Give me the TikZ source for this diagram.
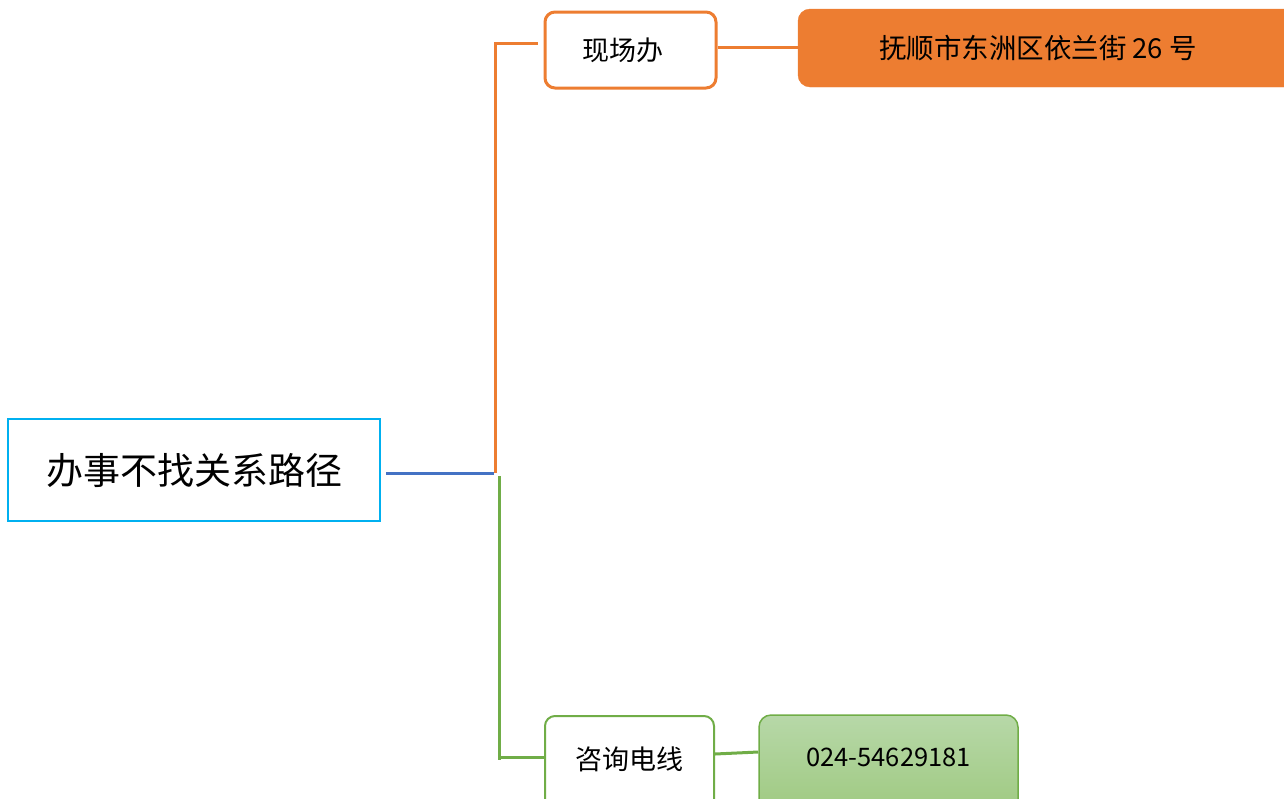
\documentclass[tikz,border=0pt]{standalone}
\usepackage{fontspec}
\newfontfamily\cjk{Noto Sans CJK SC}
\definecolor{rootc}{RGB}{0,176,240}
\definecolor{bluel}{RGB}{68,114,196}
\definecolor{orangel}{RGB}{237,125,49}
\definecolor{greenl}{RGB}{112,173,71}
\definecolor{gtop}{RGB}{183,216,168}
\definecolor{gbot}{RGB}{158,201,128}
\tikzset{
  rootbox/.style={draw=rootc,line width=2.5pt,fill=white,minimum width=372pt,minimum height=102pt,inner sep=0pt,font=\cjk\fontsize{37}{42}\selectfont},
  topicbox/.style={line width=3pt,fill=white,rounded corners=10pt,inner sep=0pt,font=\cjk\fontsize{27}{30}\selectfont},
  leafbox/.style={rounded corners=12pt,inner sep=0pt,font=\cjk\fontsize{27.5}{30}\selectfont},
  conn/.style={line width=3pt}
}
\begin{document}
\begin{tikzpicture}[x=1pt,y=-1pt]
\useasboundingbox (0,0) rectangle (1284,798);
\clip (0,0) rectangle (1284,798);
\node[rootbox] (root) at (194,470) {办事不找关系路径};
\node[topicbox,draw=orangel,minimum width=171pt,minimum height=76pt] (t1) at (630.5,50) {\hspace*{-16pt}现场办};
\node[leafbox,fill=orangel,draw=orangel,minimum width=500pt,minimum height=78pt,text=black] (l1) at (1048,48) {\hspace*{-20pt}抚顺市东洲区依兰街 26 号};
\node[topicbox,draw=greenl,line width=2pt,minimum width=169pt,minimum height=100pt] (t2) at (629.5,766) {\raisebox{16pt}{咨询电线}};
\node[leafbox,top color=gtop,bottom color=gbot,draw=greenl,line width=1.5pt,minimum width=259pt,minimum height=100pt] (l2) at (888.5,765) {\raisebox{16pt}{\fontsize{25.5}{28}\selectfont 024-54629181}};
\coordinate (j) at (494,473);
\coordinate (jt) at (495,43);
\coordinate (jte) at (538,43);
\coordinate (jg) at (499.5,476);
\coordinate (jgb) at (499.5,760);
\coordinate (jb) at (499.5,757);
\draw[conn,bluel] (root.east) ++(5,3) coordinate (rs) -- (j);
\draw[conn,orangel] (495,473) -- (jt) -- (jte);
\draw[conn,greenl] (jg) -- (jgb);
\draw[conn,greenl] (jb) -- (t2.west |- jb);
\draw[conn,orangel] (t1.east |- 0,47) -- (l1.west |- 0,47);
\draw[conn,greenl] (t2.east |- 0,754) -- (l2.west |- 0,752);
\end{tikzpicture}
\end{document}
